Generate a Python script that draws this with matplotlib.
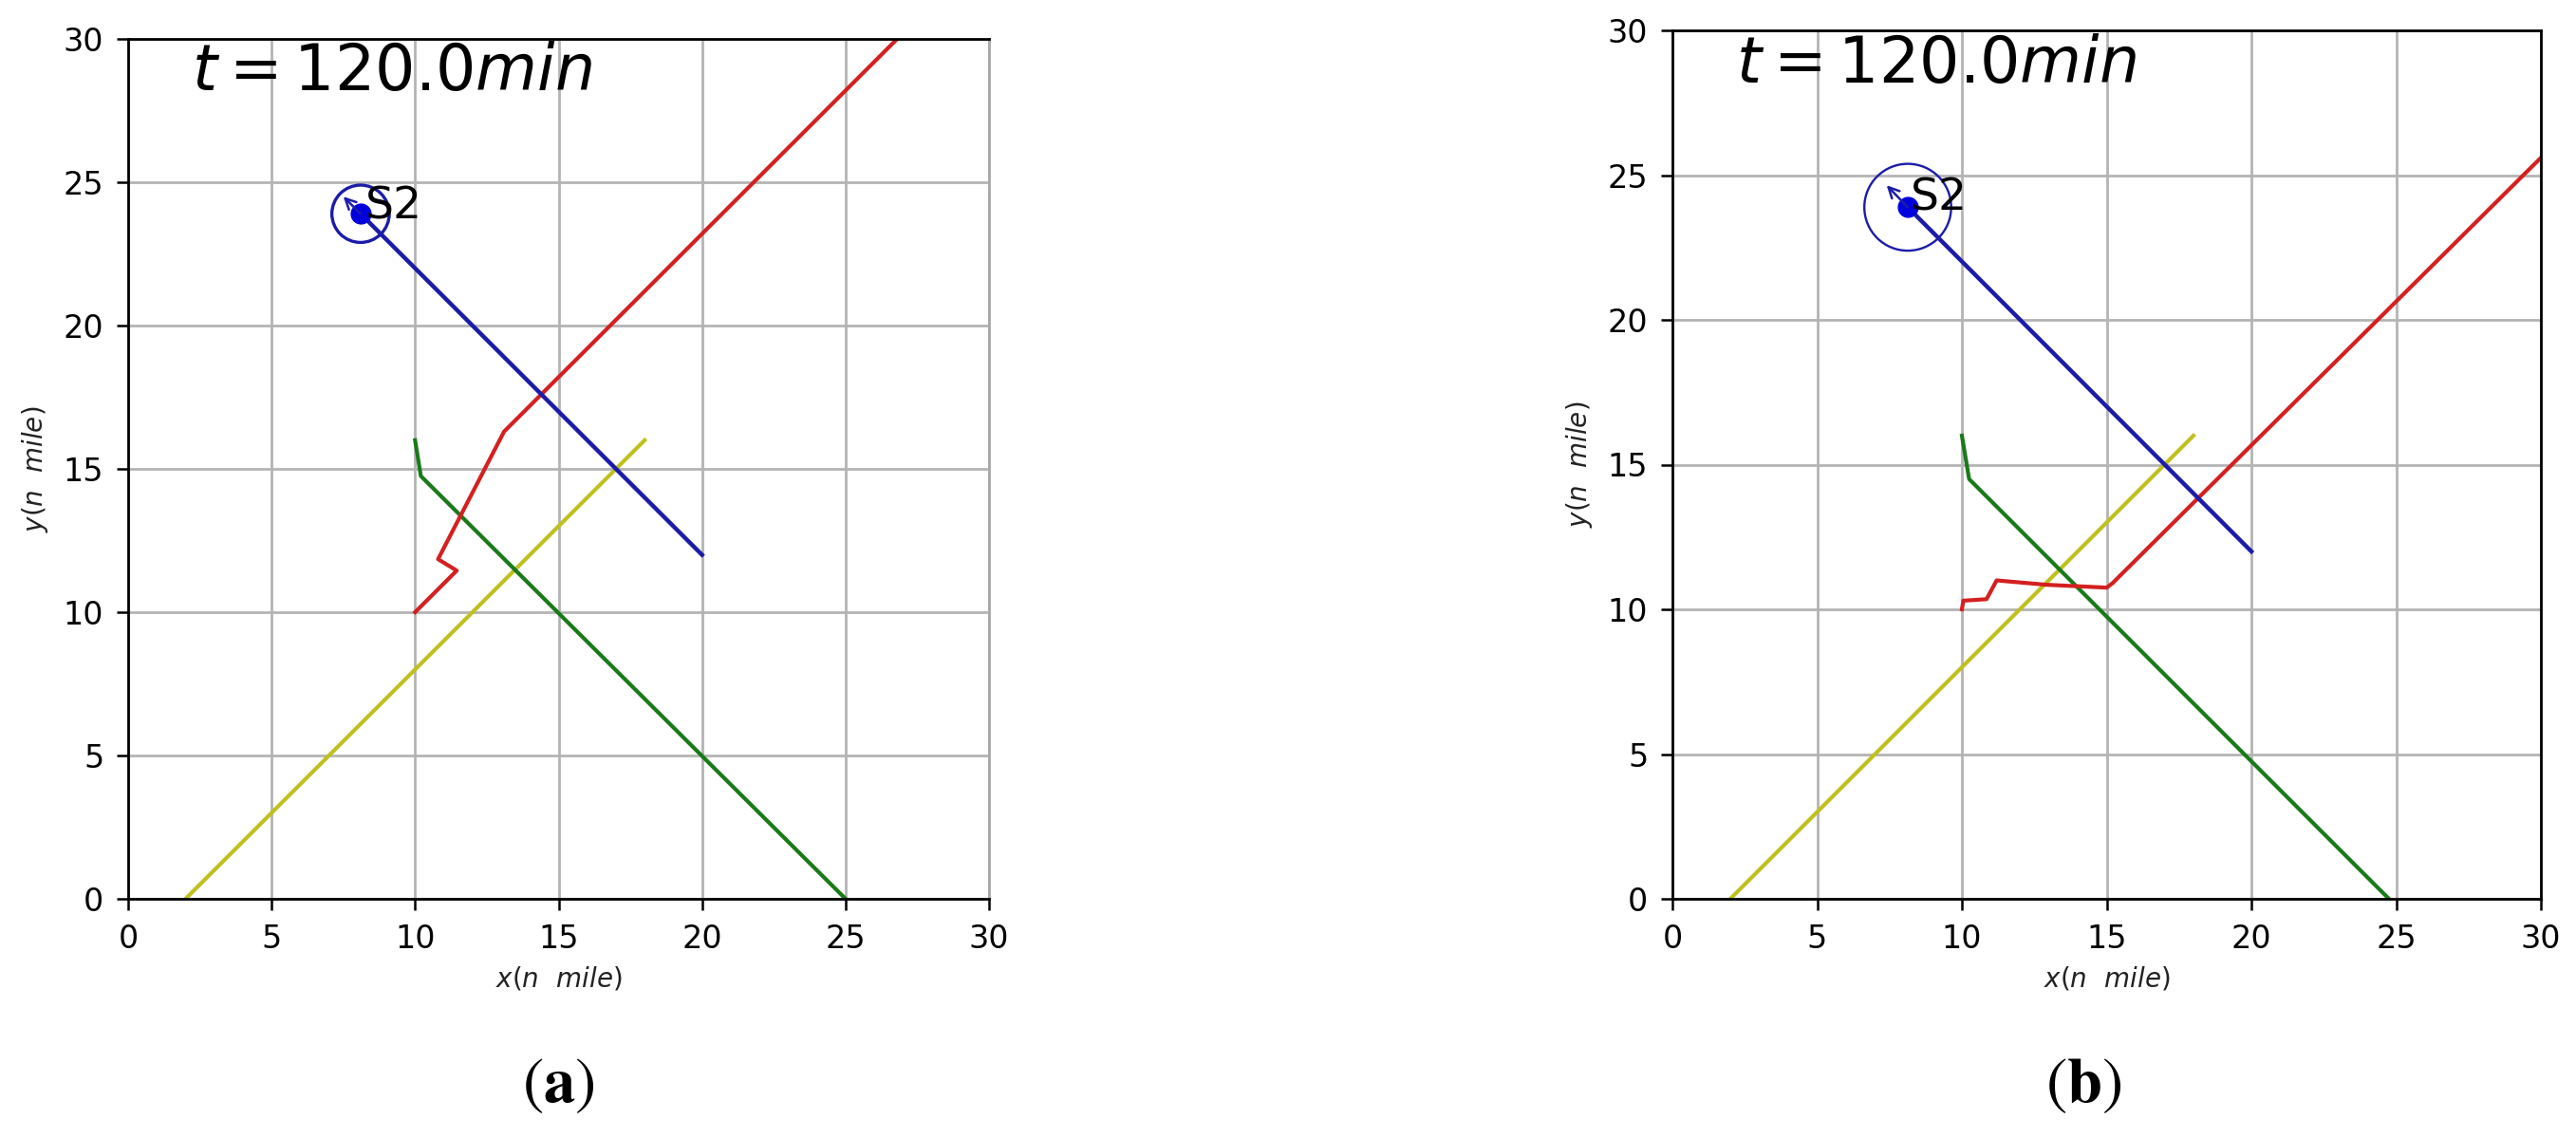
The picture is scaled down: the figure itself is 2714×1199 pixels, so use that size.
import matplotlib
matplotlib.use("Agg")
import matplotlib.pyplot as plt
from matplotlib.patches import Circle

# ---------------- data ----------------
# panel (a)
a_red_x = [10.0, 11.45, 10.8, 13.1, 13.7, 27.0]
a_red_y = [10.0, 11.45, 11.85, 16.3, 16.9, 30.2]
a_green_x = [10.0, 10.2, 25.0]
a_green_y = [16.0, 14.75, 0.0]
a_yellow_x = [2.0, 18.0]
a_yellow_y = [0.0, 16.0]
a_blue_x = [20.0, 8.1]
a_blue_y = [12.0, 23.9]
a_ship = (8.1, 23.9)
a_arrow_tip = (7.5, 24.5)
a_radius = 1.0

# panel (b)
b_red_x = [10.0, 10.05, 10.85, 11.2, 12.9, 15.0, 15.2, 15.5, 30.0]
b_red_y = [10.0, 10.3, 10.35, 11.0, 10.85, 10.75, 10.9, 11.2, 25.6]
b_green_x = [10.0, 10.25, 24.75]
b_green_y = [16.0, 14.5, 0.0]
b_yellow_x = [2.0, 18.0]
b_yellow_y = [0.0, 16.0]
b_blue_x = [20.0, 8.13]
b_blue_y = [12.0, 23.89]
b_ship = (8.13, 23.89)
b_arrow_tip = (7.4, 24.65)
b_radius = 1.5

ticks = [0, 5, 10, 15, 20, 25, 30]
title_text = r'$t=120.0min$'
ship_label = 'S2'
xlabel = r'$x(n\ \ mile)$'
ylabel = r'$y(n\ \ mile)$'
panel_labels = [r'$(\mathbf{a})$', r'$(\mathbf{b})$']

RED = '#d42020'
GREEN = '#1a7a1a'
YELLOW = '#c0c020'
BLUE = '#1c1ca8'
DOT = '#0000dd'

fig = plt.figure(figsize=(27.14, 11.99), dpi=100)
ax1 = fig.add_axes([135/2714, 252/1199, 907/2714, 906/1199])
ax2 = fig.add_axes([1762/2714, 252/1199, 915/2714, 915/1199])

panels = [
    (ax1, a_red_x, a_red_y, a_green_x, a_green_y, a_yellow_x, a_yellow_y,
     a_blue_x, a_blue_y, a_ship, a_arrow_tip, a_radius, 2.4, (8.27, 23.74)),
    (ax2, b_red_x, b_red_y, b_green_x, b_green_y, b_yellow_x, b_yellow_y,
     b_blue_x, b_blue_y, b_ship, b_arrow_tip, b_radius, 1.7, (8.23, 23.78)),
]

for (ax, rx, ry, gx, gy, yx, yy, bx, by, ship, tip, rad, clw, s2pos) in panels:
    ax.set_xlim(0, 30)
    ax.set_ylim(0, 30)
    ax.set_xticks(ticks)
    ax.set_yticks(ticks)
    ax.set_axisbelow(True)
    ax.grid(True, color='#b4b4b4', lw=2.0)
    ax.tick_params(labelsize=24, length=8.5, width=1.8, pad=10, colors='black')
    for sp in ax.spines.values():
        sp.set_linewidth(2.0)
    ax.plot(yx, yy, color=YELLOW, lw=3.0)
    ax.plot(gx, gy, color=GREEN, lw=3.0)
    ax.plot(rx, ry, color=RED, lw=3.0)
    ax.plot(bx, by, color=BLUE, lw=3.2)
    ax.plot([ship[0]], [ship[1]], 'o', color=DOT, ms=15)
    ax.add_patch(Circle(ship, rad, fill=False, ec=BLUE, lw=clw))
    ax.annotate('', xy=tip, xytext=ship,
                arrowprops=dict(arrowstyle='->', color=BLUE, lw=1.8,
                                mutation_scale=20, shrinkA=0, shrinkB=0))
    ax.text(s2pos[0], s2pos[1], ship_label, fontsize=34, color='black',
            va='baseline', ha='left')
    ax.text(2.2, 28.2, title_text, fontsize=48, va='baseline', ha='left')
    ax.set_xlabel(xlabel, fontsize=20, color='#222222', labelpad=8)
    ax.set_ylabel(ylabel, fontsize=20, color='#222222', labelpad=10)

ax1.spines['right'].set_color('#a8a8a8')

fig.text(588/2714, 1 - 1142/1199, panel_labels[0], fontsize=48,
         ha='center', va='center', math_fontfamily='stix')
fig.text(2195/2714, 1 - 1142/1199, panel_labels[1], fontsize=48,
         ha='center', va='center', math_fontfamily='stix')

fig.savefig('out.png', dpi=100, facecolor='white')
